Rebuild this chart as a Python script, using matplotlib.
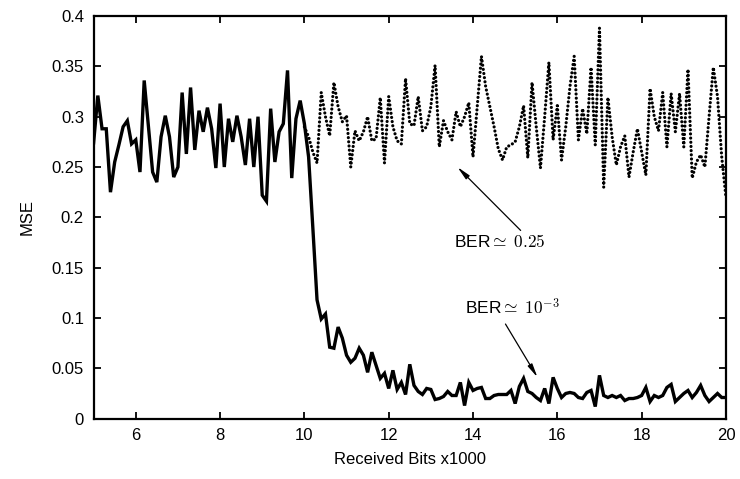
import numpy as np
import matplotlib
matplotlib.use("Agg")
import matplotlib.pyplot as plt

plt.rcParams['font.family'] = ['Liberation Sans', 'DejaVu Sans']
plt.rcParams['mathtext.fontset'] = 'cm'

# Solid curve (BER ~ 1e-3), x = 5.0 .. 20.0 step 0.1
mse_low_ber = [
    0.274, 0.321, 0.288, 0.288, 0.225, 0.255, 0.272, 0.290, 0.296, 0.273,
    0.277, 0.245, 0.336, 0.290, 0.245, 0.235, 0.280, 0.301, 0.280, 0.240,
    0.250, 0.324, 0.263, 0.329, 0.267, 0.306, 0.285, 0.309, 0.288, 0.249,
    0.313, 0.250, 0.298, 0.275, 0.301, 0.280, 0.252, 0.298, 0.250, 0.300,
    0.222, 0.216, 0.308, 0.255, 0.285, 0.293, 0.346, 0.239, 0.298, 0.316,
    0.293, 0.260, 0.190, 0.118, 0.099, 0.104, 0.071, 0.070, 0.091, 0.080,
    0.063, 0.056, 0.060, 0.070, 0.063, 0.046, 0.066, 0.053, 0.040, 0.045,
    0.030, 0.048, 0.029, 0.036, 0.024, 0.054, 0.033, 0.027, 0.024, 0.030,
    0.029, 0.019, 0.020, 0.022, 0.027, 0.023, 0.023, 0.036, 0.013, 0.036,
    0.028, 0.030, 0.031, 0.020, 0.020, 0.023, 0.024, 0.024, 0.024, 0.028,
    0.015, 0.032, 0.040, 0.027, 0.025, 0.021, 0.018, 0.030, 0.015, 0.041,
    0.030, 0.021, 0.025, 0.026, 0.025, 0.021, 0.020, 0.026, 0.028, 0.012,
    0.043, 0.023, 0.021, 0.023, 0.021, 0.023, 0.018, 0.020, 0.020, 0.021,
    0.023, 0.031, 0.017, 0.023, 0.021, 0.023, 0.031, 0.034, 0.017, 0.021,
    0.025, 0.028, 0.021, 0.026, 0.033, 0.023, 0.017, 0.021, 0.025, 0.021,
    0.021,
]

# Dotted curve (BER ~ 0.25), x = 10.0 .. 20.0 step 0.1
mse_high_ber = [
    0.290, 0.280, 0.265, 0.254, 0.324, 0.300, 0.281, 0.334, 0.310, 0.295,
    0.301, 0.250, 0.286, 0.276, 0.285, 0.300, 0.276, 0.278, 0.319, 0.254,
    0.320, 0.290, 0.276, 0.273, 0.338, 0.293, 0.291, 0.320, 0.286, 0.290,
    0.310, 0.351, 0.270, 0.296, 0.285, 0.277, 0.305, 0.290, 0.300, 0.314,
    0.260, 0.310, 0.360, 0.330, 0.310, 0.290, 0.268, 0.257, 0.270, 0.272,
    0.275, 0.290, 0.311, 0.259, 0.334, 0.290, 0.249, 0.300, 0.354, 0.277,
    0.311, 0.257, 0.290, 0.330, 0.360, 0.277, 0.308, 0.283, 0.349, 0.272,
    0.388, 0.230, 0.319, 0.280, 0.252, 0.270, 0.281, 0.240, 0.265, 0.288,
    0.265, 0.242, 0.328, 0.300, 0.286, 0.324, 0.270, 0.323, 0.285, 0.323,
    0.270, 0.347, 0.239, 0.255, 0.262, 0.250, 0.300, 0.349, 0.320, 0.260,
    0.220,
]

x_low = np.round(5.0 + 0.1 * np.arange(len(mse_low_ber)), 2)
x_high = np.round(10.0 + 0.1 * np.arange(len(mse_high_ber)), 2)

xticks = [6, 8, 10, 12, 14, 16, 18, 20]
xtick_labels = ['6', '8', '10', '12', '14', '16', '18', '20']
yticks = [0, 0.05, 0.1, 0.15, 0.2, 0.25, 0.3, 0.35, 0.4]
ytick_labels = ['0', '0.05', '0.1', '0.15', '0.2', '0.25', '0.3', '0.35', '0.4']

fig = plt.figure(figsize=(7.4, 4.79), dpi=100)
ax = fig.add_axes([0.1265, 0.126, 0.8545, 0.8405])

ax.plot(x_low, mse_low_ber, color='black', lw=2.4, solid_joinstyle='miter')
ax.plot(x_high, mse_high_ber, color='black', lw=2.3,
        linestyle=(0, (0.01, 1.3)), dash_capstyle='round')

ax.set_xlim(5, 20)
ax.set_ylim(0, 0.4)
ax.set_xticks(xticks)
ax.set_xticklabels(xtick_labels)
ax.set_yticks(yticks)
ax.set_yticklabels(ytick_labels)
ax.tick_params(direction='in', top=True, right=True, length=5, width=1.3,
               labelsize=12, pad=7)
for s in ax.spines.values():
    s.set_linewidth(1.6)

ax.set_xlabel('Received Bits x1000', fontsize=12, labelpad=6)
ax.set_ylabel('MSE', fontsize=12, labelpad=12)

arrow = dict(arrowstyle='-|>,head_length=0.8,head_width=0.15', lw=0.9,
             color='black', shrinkA=0, shrinkB=0)
ax.annotate('', xy=(13.63, 0.250), xytext=(15.13, 0.187), arrowprops=arrow)
ax.annotate('', xy=(15.53, 0.041), xytext=(14.77, 0.094), arrowprops=arrow)
ax.text(13.54, 0.176, r'BER$\simeq\;0.25$', fontsize=12.5, ha='left', va='center')
ax.text(13.82, 0.111, r'BER$\simeq\;10^{-3}$', fontsize=12.5, ha='left', va='center')

fig.savefig('out.png', dpi=100)
